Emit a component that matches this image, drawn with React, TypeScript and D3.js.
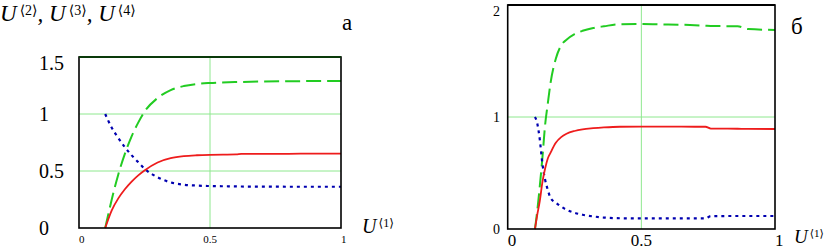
import React from "react";
import * as d3 from "d3";

// Panel "а"
const xA = [0.1, 0.125, 0.15, 0.175, 0.2, 0.225, 0.25, 0.3, 0.35, 0.4, 0.45, 0.5, 0.6, 0.62, 0.7, 0.8, 0.9, 1.0];
const u2A = [0, 0.155, 0.26, 0.34, 0.405, 0.46, 0.505, 0.575, 0.612, 0.63, 0.638, 0.642, 0.645, 0.65, 0.65, 0.651, 0.652, 0.652];
const u3A = [0, 0.25, 0.47, 0.65, 0.8, 0.92, 1.02, 1.14, 1.21, 1.245, 1.263, 1.272, 1.28, 1.281, 1.285, 1.287, 1.289, 1.29];
const u4A = [1.0, 0.88, 0.79, 0.71, 0.64, 0.58, 0.52, 0.445, 0.4, 0.38, 0.372, 0.368, 0.365, 0.364, 0.363, 0.362, 0.362, 0.362];
const yTicksA = [0, 0.5, 1, 1.5];
const xTicksA = [0, 0.5, 1];
const gridYA = [0.5, 1, 1.5];
const gridXA = [0.5];

// Panel "б"
const xB = [0.102, 0.11, 0.12, 0.13, 0.14, 0.15, 0.16, 0.18, 0.2, 0.22, 0.25, 0.28, 0.32, 0.36, 0.42, 0.5, 0.6, 0.7, 0.74, 0.76, 0.86, 0.9, 1.0];
const u2B = [0, 0.12, 0.25, 0.42, 0.54, 0.63, 0.68, 0.77, 0.82, 0.85, 0.875, 0.89, 0.9, 0.907, 0.913, 0.914, 0.914, 0.913, 0.913, 0.897, 0.895, 0.894, 0.893];
const u3B = [0, 0.15, 0.38, 0.64, 0.93, 1.12, 1.3, 1.52, 1.64, 1.69, 1.74, 1.77, 1.795, 1.81, 1.828, 1.83, 1.825, 1.82, 1.815, 1.813, 1.81, 1.785, 1.777];
const u4B = [1.0, 0.95, 0.8, 0.58, 0.44, 0.35, 0.28, 0.235, 0.2, 0.172, 0.145, 0.127, 0.112, 0.102, 0.096, 0.094, 0.094, 0.095, 0.095, 0.115, 0.116, 0.116, 0.116];
const yTicksB = [0, 1, 2];
const xTicksB = [0, 0.5, 1];
const gridYB = [1];
const gridXB = [0.5];

const titleIndices = [2, 3, 4];

const SERIF = "Liberation Serif, DejaVu Serif, serif";
const RED = "#ee1c1c";
const GREEN = "#22cc22";
const BLUE = "#0000b0";
const GRID = "#8ee88e";

type PanelProps = {
  left: number; right: number; top: number; bottom: number;
  yMax: number; xs: number[]; u2: number[]; u3: number[]; u4: number[];
  yTicks: number[]; xTicks: number[]; gridY: number[]; gridX: number[];
  yLabelX: number; yLabelAnchor: string; yFont: number;
  xFont: number; xLabelY: number; topBorder: string;
};

function Panel(p: PanelProps) {
  const x = d3.scaleLinear().domain([0, 1]).range([p.left, p.right]);
  const y = d3.scaleLinear().domain([0, p.yMax]).range([p.bottom, p.top]);
  const line = (vals: number[]) =>
    d3.line<number>().x((_, i) => x(p.xs[i])).y((v) => y(v)).curve(d3.curveMonotoneX)(vals) || "";
  const fmt = (v: number) => String(v);
  return (
    <g>
      {p.gridY.map((v) => (
        <line key={"gy" + v} x1={p.left} x2={p.right} y1={y(v)} y2={y(v)} stroke={GRID} strokeWidth={1} />
      ))}
      {p.gridX.map((v) => (
        <line key={"gx" + v} x1={x(v)} x2={x(v)} y1={p.top} y2={p.bottom} stroke={GRID} strokeWidth={1} />
      ))}
      <path d={line(p.u3)} fill="none" stroke={GREEN} strokeWidth={2} strokeDasharray="15,6" />
      <path d={line(p.u4)} fill="none" stroke={BLUE} strokeWidth={2.2} strokeDasharray="3,4" />
      <path d={line(p.u2)} fill="none" stroke={RED} strokeWidth={1.8} />
      <rect x={p.left} y={p.top} width={p.right - p.left} height={p.bottom - p.top} fill="none" stroke="#000" strokeWidth={1.6} />
      <line x1={p.left} x2={p.right} y1={p.top} y2={p.top} stroke={p.topBorder} strokeWidth={2} />
      {p.yTicks.map((v) => (
        <text key={"yt" + v} x={p.yLabelX} y={Math.min(Math.max(y(v), p.top + 6), p.bottom + 2)}
          dominantBaseline="central" textAnchor={p.yLabelAnchor} fontFamily={SERIF} fontSize={p.yFont}>
          {fmt(v)}
        </text>
      ))}
      {p.xTicks.map((v, i) => (
        <text key={"xt" + v} x={x(v)} y={p.xLabelY}
          textAnchor={i === 0 || i === p.xTicks.length - 1 ? "start" : "middle"}
          fontFamily={SERIF} fontSize={p.xFont}>
          {fmt(v)}
        </text>
      ))}
    </g>
  );
}

function ULabel({ x, y, n, size, sup }: { x: number; y: number; n: number; size: number; sup: number }) {
  return (
    <text x={x} y={y} fontFamily={SERIF} fontSize={size}>
      <tspan fontStyle="italic">U</tspan>
      <tspan fontSize={sup} dx={2} dy={-size * 0.3}>{"\u27E8" + n + "\u27E9"}</tspan>
    </text>
  );
}

export default function App() {
  const tSize = 23;
  const tSup = 14;
  const tRise = 6;
  return (
    <svg width={827} height={250} style={{ position: "absolute", left: 0, top: 0, background: "#fff" }}>
      {/* Panel а */}
      <Panel left={79} right={341} top={57} bottom={228} yMax={1.5} xs={xA} u2={u2A} u3={u3A} u4={u4A}
        yTicks={yTicksA} xTicks={xTicksA} gridY={gridYA} gridX={gridXA}
        yLabelX={39} yLabelAnchor="start" yFont={20} xFont={11} xLabelY={243} topBorder="#0a3a0a" />
      <text x={0} y={21} fontFamily={SERIF} fontSize={tSize}>
        {titleIndices.map((n, i) => (
          <React.Fragment key={n}>
            <tspan fontStyle="italic" dy={i === 0 ? 0 : tRise}>{i === 0 ? "U" : ",\u00A0U"}</tspan>
            <tspan fontSize={tSup} dx={3} dy={-tRise}>{"\u27E8" + n + "\u27E9"}</tspan>
          </React.Fragment>
        ))}
      </text>
      <text x={342} y={30} fontFamily={SERIF} fontSize={23}>а</text>
      <ULabel x={362} y={233} n={1} size={20} sup={12} />

      {/* Panel б */}
      <Panel left={507.7} right={775} top={5} bottom={229} yMax={2} xs={xB} u2={u2B} u3={u3B} u4={u4B}
        yTicks={yTicksB} xTicks={xTicksB} gridY={gridYB} gridX={gridXB}
        yLabelX={500} yLabelAnchor="end" yFont={14} xFont={17} xLabelY={246} topBorder="#000" />
      <text x={791} y={34} fontFamily={SERIF} fontSize={23}>б</text>
      <ULabel x={794} y={243} n={1} size={19} sup={11} />
    </svg>
  );
}
